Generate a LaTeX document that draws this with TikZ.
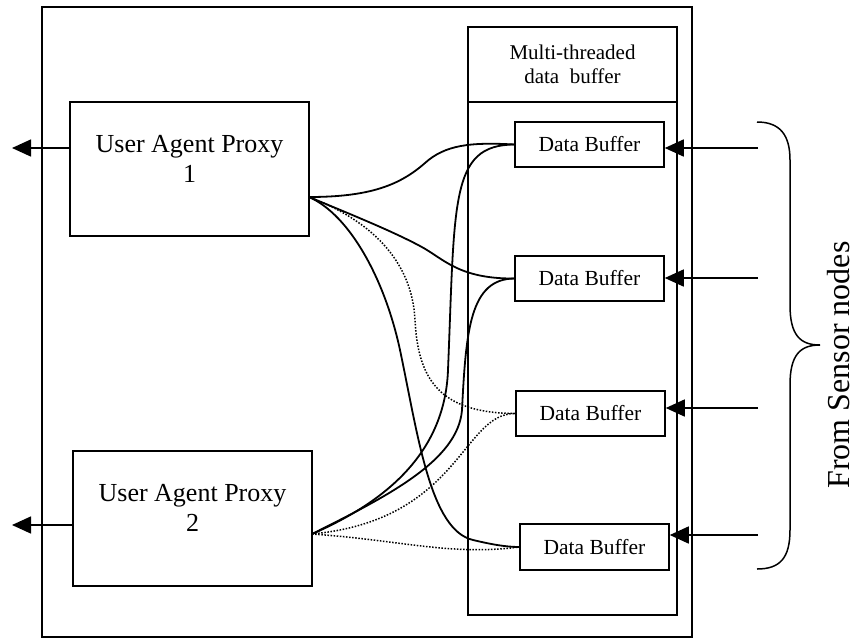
\documentclass[tikz,border=0pt]{standalone}
\usepackage{fontspec}
\setmainfont{Liberation Serif}
\usetikzlibrary{arrows.meta,calc}
\begin{document}
\begin{tikzpicture}[x=1pt,y=-1pt,
  box/.style={draw, line width=1.5pt, inner sep=0pt},
  proxytext/.style={font=\fontsize{26}{30}\selectfont, align=center},
  dbbox/.style={box, minimum width=149pt, minimum height=45pt, font=\fontsize{21.5}{24}\selectfont},
  arr/.style={-{Triangle[length=19pt,width=17pt]}, line width=1.5pt},
  conn/.style={line width=1.8pt},
  dotconn/.style={line width=1.5pt, dash pattern=on 1.5pt off 1.6pt},
  brace/.style={line width=1.5pt}]
\useasboundingbox (0,0) rectangle (857,638);
% frames
\node[box, minimum width=650pt, minimum height=630pt] (outer) at (367,322) {};
\node[box, minimum width=209pt, minimum height=75pt, align=center,
      font=\fontsize{21}{24}\selectfont] (head) at (572.5,64.5) {Multi-threaded\\data\ \ buffer};
\node[box, minimum width=209pt, minimum height=513pt] (col) at (572.5,358.5) {};
% proxies
\node[box, minimum width=239pt, minimum height=134pt] (u1) at (189.5,169) {};
\node[proxytext] (u1t) at (189.5,159.4) {User Agent Proxy\\1};
\node[box, minimum width=239pt, minimum height=135pt] (u2) at (192.5,518.5) {};
\node[proxytext] (u2t) at (192.5,508.4) {User Agent Proxy\\2};
% data buffers
\node[dbbox] (db1) at (589.5,144.5) {Data Buffer};
\node[dbbox] (db2) at (589.5,278.5) {Data Buffer};
\node[dbbox] (db3) at (590.5,413.5) {Data Buffer};
\node[dbbox, minimum height=46pt] (db4) at (594.5,547) {Data Buffer};
% outgoing arrows
\coordinate (o1) at (12,148);
\coordinate (o2) at (12,525);
\draw[arr] (o1 -| u1.west) -- (o1);
\draw[arr] (o2 -| u2.west) -- (o2);
% incoming arrows
\coordinate (i1) at (758,148);
\coordinate (i2) at (758,278);
\coordinate (i3) at (758,408);
\coordinate (i4) at (758,535);
\draw[arr] (i1) -- (i1 -| db1.east);
\draw[arr] (i2) -- (i2 -| db2.east);
\draw[arr] (i3) -- (i3 -| db3.east);
\draw[arr] (i4) -- (i4 -| db4.east);
% sources
\coordinate (s1) at (309,197);
\coordinate (s2) at (312,534);
% connectors from proxy 1
\draw[conn] (s1) .. controls (370,197) and (400,185) .. (425,163)
                 .. controls (445,145) and (470,142) .. (db1.west);
\draw[conn] (s1) .. controls (350,214) and (392,231) .. (420,246)
                 .. controls (443,258) and (458,279) .. (db2.west);
\draw[dotconn] (s1) .. controls (370,220) and (412,260) .. (415,320)
                 .. controls (418,380) and (440,413) .. (db3.west);
\draw[conn] (s1) .. controls (350,215) and (385,280) .. (400,350)
                 .. controls (418,435) and (430,530) .. (473,540)
                 .. controls (490,544) and (505,547) .. (db4.west);
% connectors from proxy 2
\draw[conn] (s2) .. controls (390,500) and (445,450) .. (448,370)
                 .. controls (455,200) and (450,145) .. (db1.west);
\draw[conn] (s2) .. controls (390,495) and (458,460) .. (462,410)
                 .. controls (466,330) and (470,279) .. (db2.west);
\draw[dotconn] (s2) .. controls (460,520) and (462,413) .. (db3.west);
\draw[dotconn] (s2) .. controls (400,540) and (450,556) .. (db4.west);
% brace
\draw[brace] (757,122) .. controls (780,122) and (790,135) .. (790,160) -- (790,305)
  .. controls (790,335) and (800,345) .. (820,345)
  .. controls (800,345) and (790,355) .. (790,385) -- (790,530)
  .. controls (790,558) and (780,569) .. (757,569);
\node[rotate=90, anchor=base, font=\fontsize{32}{38}\selectfont] (from) at (849,365) {From Sensor nodes};
\end{tikzpicture}
\end{document}
